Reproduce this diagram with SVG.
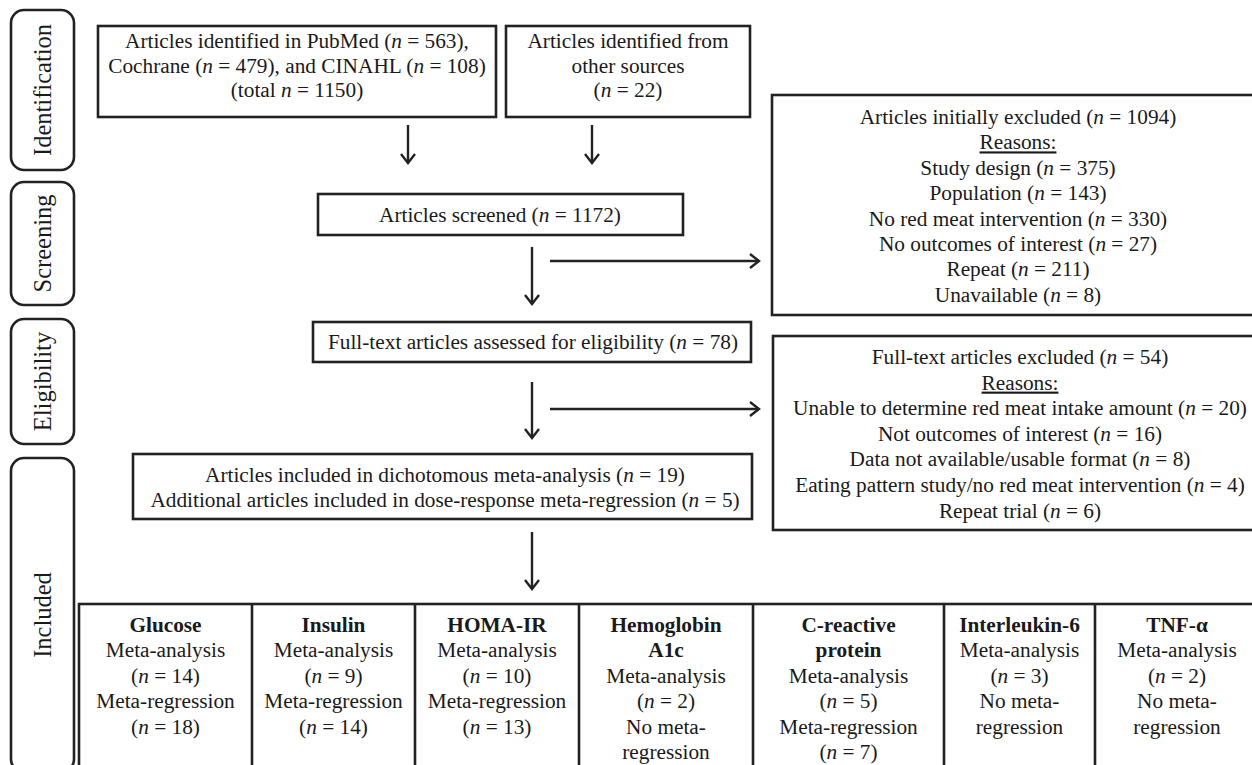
<svg xmlns="http://www.w3.org/2000/svg" width="1252" height="765" viewBox="0 0 1252 765">
<style>
text{font-family:"Liberation Serif","Times New Roman",serif;font-size:21.3px;fill:#1a1a1a;text-anchor:middle}
.i{font-style:italic}
.b{font-weight:bold}
.pl{font-size:24.5px}
.box{fill:#fff;stroke:#222;stroke-width:2.6}
.lab{fill:#fff;stroke:#222;stroke-width:2.6}
.ln{fill:none;stroke:#222;stroke-width:2.4}
.cell{fill:none;stroke:#222;stroke-width:2.6}
</style>
<defs>
<marker id="ah" markerUnits="userSpaceOnUse" markerWidth="16" markerHeight="18" refX="11" refY="8" orient="auto" viewBox="0 0 16 16">
<path d="M2,1 L11,8 L2,15" fill="none" stroke="#222" stroke-width="2.4"/>
</marker>
</defs>
<rect width="1252" height="765" fill="#fff"/>

<g id="phase-identification"><rect class="lab" x="11" y="10" width="63" height="160" rx="13"/><text class="pl" transform="translate(51,90) rotate(-90)">Identification</text></g>
<g id="phase-screening"><rect class="lab" x="11" y="182" width="63" height="123" rx="13"/><text class="pl" transform="translate(51,243.5) rotate(-90)">Screening</text></g>
<g id="phase-eligibility"><rect class="lab" x="11" y="319" width="63" height="125" rx="13"/><text class="pl" transform="translate(51,381.5) rotate(-90)">Eligibility</text></g>
<g id="phase-included"><rect class="lab" x="11" y="458" width="63" height="314" rx="13"/><text class="pl" transform="translate(51,615) rotate(-90)">Included</text></g>

<g id="identified-databases"><rect class="box" x="98" y="26" width="398" height="91"/>
<text x="297" y="48">Articles identified in PubMed (<tspan class="i">n</tspan> = 563),</text>
<text x="297" y="73">Cochrane (<tspan class="i">n</tspan> = 479), and CINAHL (<tspan class="i">n</tspan> = 108)</text>
<text x="297" y="97">(total <tspan class="i">n</tspan> = 1150)</text></g>

<g id="identified-other"><rect class="box" x="506" y="26" width="244" height="91"/>
<text x="628" y="48">Articles identified from</text>
<text x="628" y="73">other sources</text>
<text x="628" y="97">(<tspan class="i">n</tspan> = 22)</text></g>

<g id="screened"><rect class="box" x="318" y="194" width="365" height="41"/>
<text x="500" y="222">Articles screened (<tspan class="i">n</tspan> = 1172)</text></g>

<g id="excluded-initial"><rect class="box" x="772" y="95" width="490" height="220"/>
<text x="1018" y="124">Articles initially excluded (<tspan class="i">n</tspan> = 1094)</text>
<text x="1018" y="149.4" text-decoration="underline">Reasons:</text>
<text x="1018" y="174.8">Study design (<tspan class="i">n</tspan> = 375)</text>
<text x="1018" y="200.2">Population (<tspan class="i">n</tspan> = 143)</text>
<text x="1018" y="225.6">No red meat intervention (<tspan class="i">n</tspan> = 330)</text>
<text x="1018" y="251">No outcomes of interest (<tspan class="i">n</tspan> = 27)</text>
<text x="1018" y="276.4">Repeat (<tspan class="i">n</tspan> = 211)</text>
<text x="1018" y="301.8">Unavailable (<tspan class="i">n</tspan> = 8)</text></g>

<g id="eligibility"><rect class="box" x="313" y="322" width="438" height="40"/>
<text x="533" y="349">Full-text articles assessed for eligibility (<tspan class="i">n</tspan> = 78)</text></g>

<g id="excluded-fulltext"><rect class="box" x="773" y="336" width="490" height="194"/>
<text x="1020" y="364">Full-text articles excluded (<tspan class="i">n</tspan> = 54)</text>
<text x="1020" y="389.6" text-decoration="underline">Reasons:</text>
<text x="1020" y="415.2">Unable to determine red meat intake amount (<tspan class="i">n</tspan> = 20)</text>
<text x="1020" y="440.8">Not outcomes of interest (<tspan class="i">n</tspan> = 16)</text>
<text x="1020" y="466.4">Data not available/usable format (<tspan class="i">n</tspan> = 8)</text>
<text x="1020" y="492">Eating pattern study/no red meat intervention (<tspan class="i">n</tspan> = 4)</text>
<text x="1020" y="517.6">Repeat trial (<tspan class="i">n</tspan> = 6)</text></g>

<g id="included"><rect class="box" x="133" y="454" width="619" height="65"/>
<text x="445" y="482">Articles included in dichotomous meta-analysis (<tspan class="i">n</tspan> = 19)</text>
<text x="445" y="507">Additional articles included in dose-response meta-regression (<tspan class="i">n</tspan> = 5)</text></g>

<g id="outcomes">
<rect class="cell" x="79" y="604" width="1190" height="180"/>
<path class="cell" d="M252,604V770M415,604V770M579,604V770M753,604V770M944,604V770M1095,604V770"/>
<g id="glucose"><text class="b" x="165.5" y="632">Glucose</text><text x="165.5" y="657.4">Meta-analysis</text><text x="165.5" y="682.8">(<tspan class="i">n</tspan> = 14)</text><text x="165.5" y="708.2">Meta-regression</text><text x="165.5" y="733.6">(<tspan class="i">n</tspan> = 18)</text></g>
<g id="insulin"><text class="b" x="333.5" y="632">Insulin</text><text x="333.5" y="657.4">Meta-analysis</text><text x="333.5" y="682.8">(<tspan class="i">n</tspan> = 9)</text><text x="333.5" y="708.2">Meta-regression</text><text x="333.5" y="733.6">(<tspan class="i">n</tspan> = 14)</text></g>
<g id="homa"><text class="b" x="497" y="632">HOMA-IR</text><text x="497" y="657.4">Meta-analysis</text><text x="497" y="682.8">(<tspan class="i">n</tspan> = 10)</text><text x="497" y="708.2">Meta-regression</text><text x="497" y="733.6">(<tspan class="i">n</tspan> = 13)</text></g>
<g id="hba1c"><text class="b" x="666" y="632">Hemoglobin</text><text class="b" x="666" y="657.4">A1c</text><text x="666" y="682.8">Meta-analysis</text><text x="666" y="708.2">(<tspan class="i">n</tspan> = 2)</text><text x="666" y="733.6">No meta-</text><text x="666" y="759">regression</text></g>
<g id="crp"><text class="b" x="848.5" y="632">C-reactive</text><text class="b" x="848.5" y="657.4">protein</text><text x="848.5" y="682.8">Meta-analysis</text><text x="848.5" y="708.2">(<tspan class="i">n</tspan> = 5)</text><text x="848.5" y="733.6">Meta-regression</text><text x="848.5" y="759">(<tspan class="i">n</tspan> = 7)</text></g>
<g id="il6"><text class="b" x="1019.5" y="632">Interleukin-6</text><text x="1019.5" y="657.4">Meta-analysis</text><text x="1019.5" y="682.8">(<tspan class="i">n</tspan> = 3)</text><text x="1019.5" y="708.2">No meta-</text><text x="1019.5" y="733.6">regression</text></g>
<g id="tnf"><text class="b" x="1177" y="632">TNF-α</text><text x="1177" y="657.4">Meta-analysis</text><text x="1177" y="682.8">(<tspan class="i">n</tspan> = 2)</text><text x="1177" y="708.2">No meta-</text><text x="1177" y="733.6">regression</text></g>
</g>

<g id="connectors">
<line class="ln" x1="408" y1="125" x2="408" y2="163" marker-end="url(#ah)"/>
<line class="ln" x1="592" y1="125" x2="592" y2="163" marker-end="url(#ah)"/>
<line class="ln" x1="532" y1="247" x2="532" y2="304" marker-end="url(#ah)"/>
<line class="ln" x1="550" y1="261" x2="759" y2="261" marker-end="url(#ah)"/>
<line class="ln" x1="532" y1="382" x2="532" y2="438" marker-end="url(#ah)"/>
<line class="ln" x1="550" y1="409" x2="759" y2="409" marker-end="url(#ah)"/>
<line class="ln" x1="532" y1="532" x2="532" y2="589" marker-end="url(#ah)"/>
</g>
</svg>
